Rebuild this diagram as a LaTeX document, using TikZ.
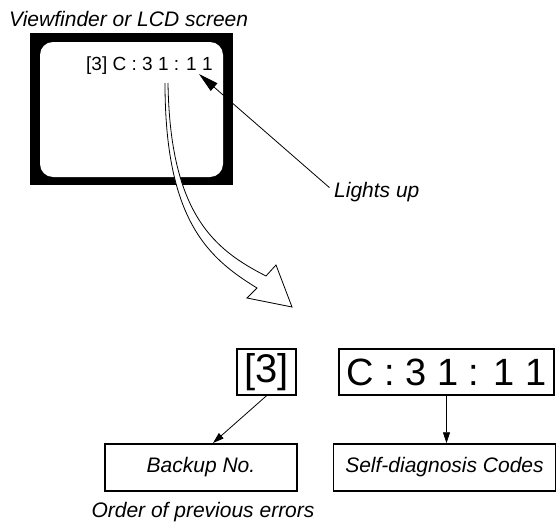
\documentclass[tikz,border=0pt]{standalone}
\usepackage{fontspec}
\setmainfont{Liberation Sans}
\usetikzlibrary{arrows.meta}

\tikzset{
  lbl/.style={font=\fontsize{21}{24}\selectfont\itshape, inner sep=0pt},
  codebox/.style={draw, line width=1.5pt, inner sep=0pt, minimum height=46pt},
  namebox/.style={draw, line width=1.5pt, inner sep=0pt, minimum height=47pt,
                  font=\fontsize{21}{24}\selectfont\itshape},
  pointer/.style={line width=0.8pt, -{Triangle[length=11pt, width=7pt]}}
}

\begin{document}
\begin{tikzpicture}[x=1pt, y=-1pt]
    \useasboundingbox (0,0) rectangle (557,522);

    % Viewfinder
    \node[lbl, anchor=base west] (title) at (9,26) {Viewfinder or LCD screen};
    \fill[black] (30,33) rectangle (233,185); % frame
    \fill[white, rounded corners=13pt] (40,42) rectangle (223,177); % screen
    \node[anchor=base west, inner sep=0pt, font=\fontsize{19}{22}\selectfont]
        (scrtext) at (86,70) {[3] C : 3 1 : 1 1};
    \coordinate (lighttip) at (199,74);

    % Lights up
    \node[lbl, anchor=base west] (lights) at (334,197) {Lights up};
    \draw[line width=0.8pt, -{Triangle[length=20pt, width=10pt]}, shorten <=6pt]
        (lights.west) -- (lighttip);

    % Big hollow arrow
    \filldraw[fill=white, draw=black, line width=0.8pt, line join=miter]
        (165,83) .. controls (165,220) and (208,258) .. (257,288)
        -- (247,298) -- (292,307) -- (276,265) -- (266,276)
        .. controls (215,250) and (170,215) .. (168,83);

    % Codes
    \node[codebox, minimum width=59pt, font=\fontsize{40}{44}\selectfont]
        (box3) at (266.5,372) {[3]};
    \node[codebox, minimum width=215pt, font=\fontsize{38}{42}\selectfont]
        (boxcode) at (446.5,372) {C : 3 1 : 1 1};

    % Meanings
    \node[namebox, minimum width=192pt] (backup) at (201,467.5) {Backup No.};
    \node[namebox, minimum width=222pt] (selfdiag) at (444.5,467.5) {Self-diagnosis Codes};
    \node[lbl, anchor=base] (order) at (203,517) {Order of previous errors};
    \coordinate (bktip) at (213,443);

    \draw[pointer] (box3.south) -- (bktip);
    \draw[pointer] (boxcode.south) -- (boxcode.south |- selfdiag.north);
\end{tikzpicture}
\end{document}
